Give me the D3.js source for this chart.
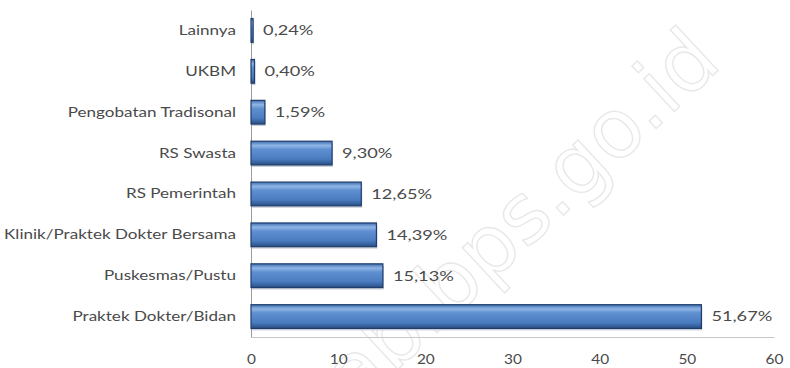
<!DOCTYPE html>
<html>
<head>
<meta charset="utf-8">
<script src="https://cdn.jsdelivr.net/npm/d3@7"></script>
<style>
  html, body { margin: 0; padding: 0; background: #fff; }
  svg { display: block; }
  text { font-family: Lato, "Open Sans", sans-serif; }
</style>
</head>
<body>
<svg id="chart" width="790" height="368"></svg>
<script>
// Facilities used for outpatient treatment (percent)
const categories = [
  "Lainnya",
  "UKBM",
  "Pengobatan Tradisonal",
  "RS Swasta",
  "RS Pemerintah",
  "Klinik/Praktek Dokter Bersama",
  "Puskesmas/Pustu",
  "Praktek Dokter/Bidan"
];
const values = [0.24, 0.40, 1.59, 9.30, 12.65, 14.39, 15.13, 51.67];
const xTicks = [0, 10, 20, 30, 40, 50, 60];

const svg = d3.select("#chart");
const margin = { left: 251, right: 16, top: 10, bottom: 31 };
const W = 790, H = 368;
const textColor = "#4a4a4a";

const x = d3.scaleLinear().domain([0, 60]).range([margin.left, W - margin.right]);
const y = d3.scaleBand().domain(categories).range([margin.top, H - margin.bottom]).paddingInner(0.42).paddingOuter(0.21);

// bar shading
const defs = svg.append("defs");
const grad = defs.append("linearGradient").attr("id", "barGrad")
  .attr("x1", 0).attr("y1", 0).attr("x2", 0).attr("y2", 1);
grad.append("stop").attr("offset", "0%").attr("stop-color", "#3f6fae");
grad.append("stop").attr("offset", "18%").attr("stop-color", "#8fb5e6");
grad.append("stop").attr("offset", "35%").attr("stop-color", "#5f8fd0");
grad.append("stop").attr("offset", "75%").attr("stop-color", "#4a7cc0");
grad.append("stop").attr("offset", "100%").attr("stop-color", "#2a4f86");

// watermark
svg.append("text")
  .attr("transform", "translate(322,440) rotate(-43)")
  .attr("font-size", 82)
  .attr("fill", "none")
  .attr("stroke", "#e8e8e8")
  .attr("stroke-width", 1.4)
  .style("font-family", "'DejaVu Sans', sans-serif")
  .text("kab.bps.go.id");

// x axis
const xAxis = svg.append("g").attr("transform", `translate(0,${H - margin.bottom})`)
  .call(d3.axisBottom(x).tickValues(xTicks).tickSize(0).tickPadding(17));
xAxis.select(".domain").attr("stroke", "#c8c8c8");
xAxis.selectAll("text")
  .attr("font-size", 14)
  .attr("fill", textColor)
  .attr("transform", "scale(1.1,1)");

// y axis
const yAxis = svg.append("g").attr("transform", `translate(${margin.left},0)`)
  .call(d3.axisLeft(y).tickSize(0));
yAxis.select(".domain").attr("stroke", "#9a9a9a");
yAxis.selectAll("text")
  .attr("x", 0)
  .attr("transform", "translate(-15,0) scale(1.22,1)")
  .attr("font-size", 14)
  .attr("fill", textColor);

// bars
const bars = svg.append("g");
bars.selectAll("rect.shadow").data(values).join("rect")
  .attr("class", "shadow")
  .attr("x", x(0) + 1)
  .attr("y", (d, i) => y(categories[i]) + 2)
  .attr("width", d => Math.max(1, x(d) - x(0)))
  .attr("height", y.bandwidth())
  .attr("fill", "#c9cfd8");
bars.selectAll("rect.bar").data(values).join("rect")
  .attr("class", "bar")
  .attr("x", x(0))
  .attr("y", (d, i) => y(categories[i]))
  .attr("width", d => Math.max(1.5, x(d) - x(0)))
  .attr("height", y.bandwidth())
  .attr("fill", "url(#barGrad)")
  .attr("stroke", "#1f3d6b")
  .attr("stroke-width", 1.2);

// value labels
svg.append("g").selectAll("text").data(values).join("text")
  .attr("transform", (d, i) =>
    `translate(${x(d) + 10},${y(categories[i]) + y.bandwidth() / 2}) scale(1.3,1)`)
  .attr("dy", "0.35em")
  .attr("font-size", 14)
  .attr("fill", textColor)
  .text(d => d.toFixed(2).replace(".", ",") + "%");
</script>
</body>
</html>
